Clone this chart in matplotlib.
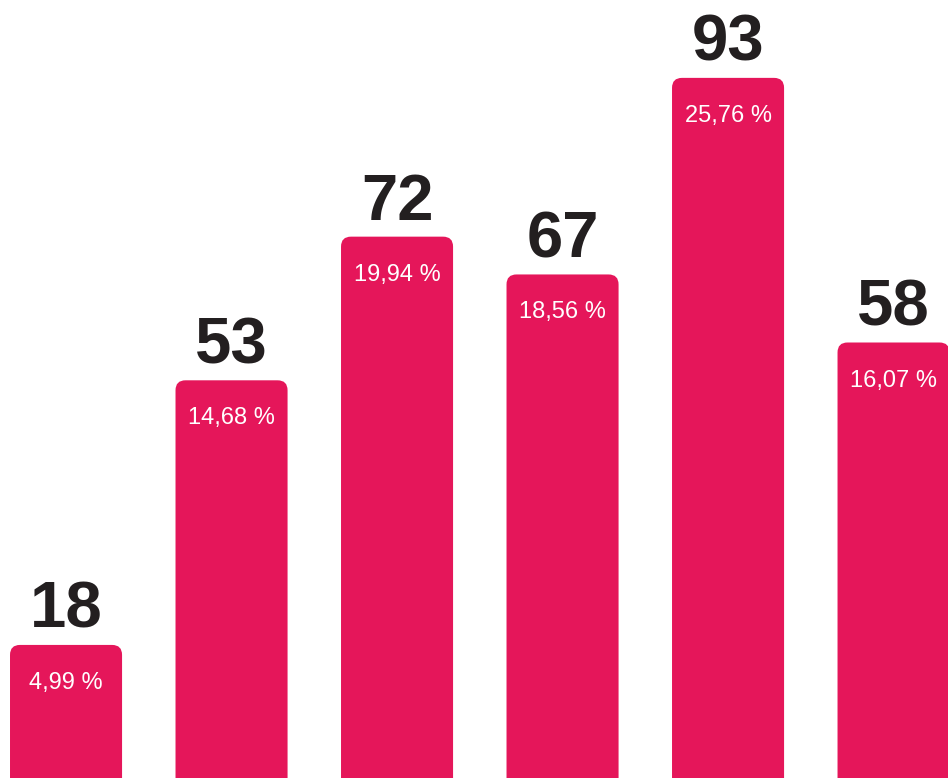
import matplotlib
matplotlib.use("Agg")
import matplotlib.pyplot as plt
from matplotlib.patches import FancyBboxPatch

counts = [18, 53, 72, 67, 93, 58]
shares = ["4,99 %", "14,68 %", "19,94 %", "18,56 %", "25,76 %", "16,07 %"]

BAR_COLOR = "#E5165A"
TEXT_COLOR = "#231F20"
BAR_WIDTH = 0.677

plt.rcParams["font.family"] = ["Liberation Sans", "DejaVu Sans"]

fig = plt.figure(figsize=(9.48, 7.78), dpi=100)
ax = fig.add_axes([0, 0, 1, 1])
ax.set_xlim(-0.399, 5.329)
ax.set_ylim(0.4, 103.3)
ax.axis("off")

# x unit ~165.5 px, y unit ~7.56 px -> keep corner radius round on screen
radius = 0.06
aspect = (165.5 / 7.56)

for i, (n, pct) in enumerate(zip(counts, shares)):
    bottom = -3
    bar = FancyBboxPatch(
        (i - BAR_WIDTH / 2, bottom), BAR_WIDTH, n - bottom,
        boxstyle=f"round,pad=0,rounding_size={radius}",
        mutation_aspect=aspect,
        facecolor=BAR_COLOR, edgecolor="none",
    )
    ax.add_patch(bar)

    ax.annotate(str(n), xy=(i, n), xytext=(0, 12.2), textcoords="offset points",
                ha="center", va="baseline", fontsize=47, fontweight="bold",
                color=TEXT_COLOR)
    ax.annotate(pct, xy=(i, n), xytext=(0, -31.7), textcoords="offset points",
                ha="center", va="baseline", fontsize=17, color="white")

fig.savefig("out.png", dpi=100)
